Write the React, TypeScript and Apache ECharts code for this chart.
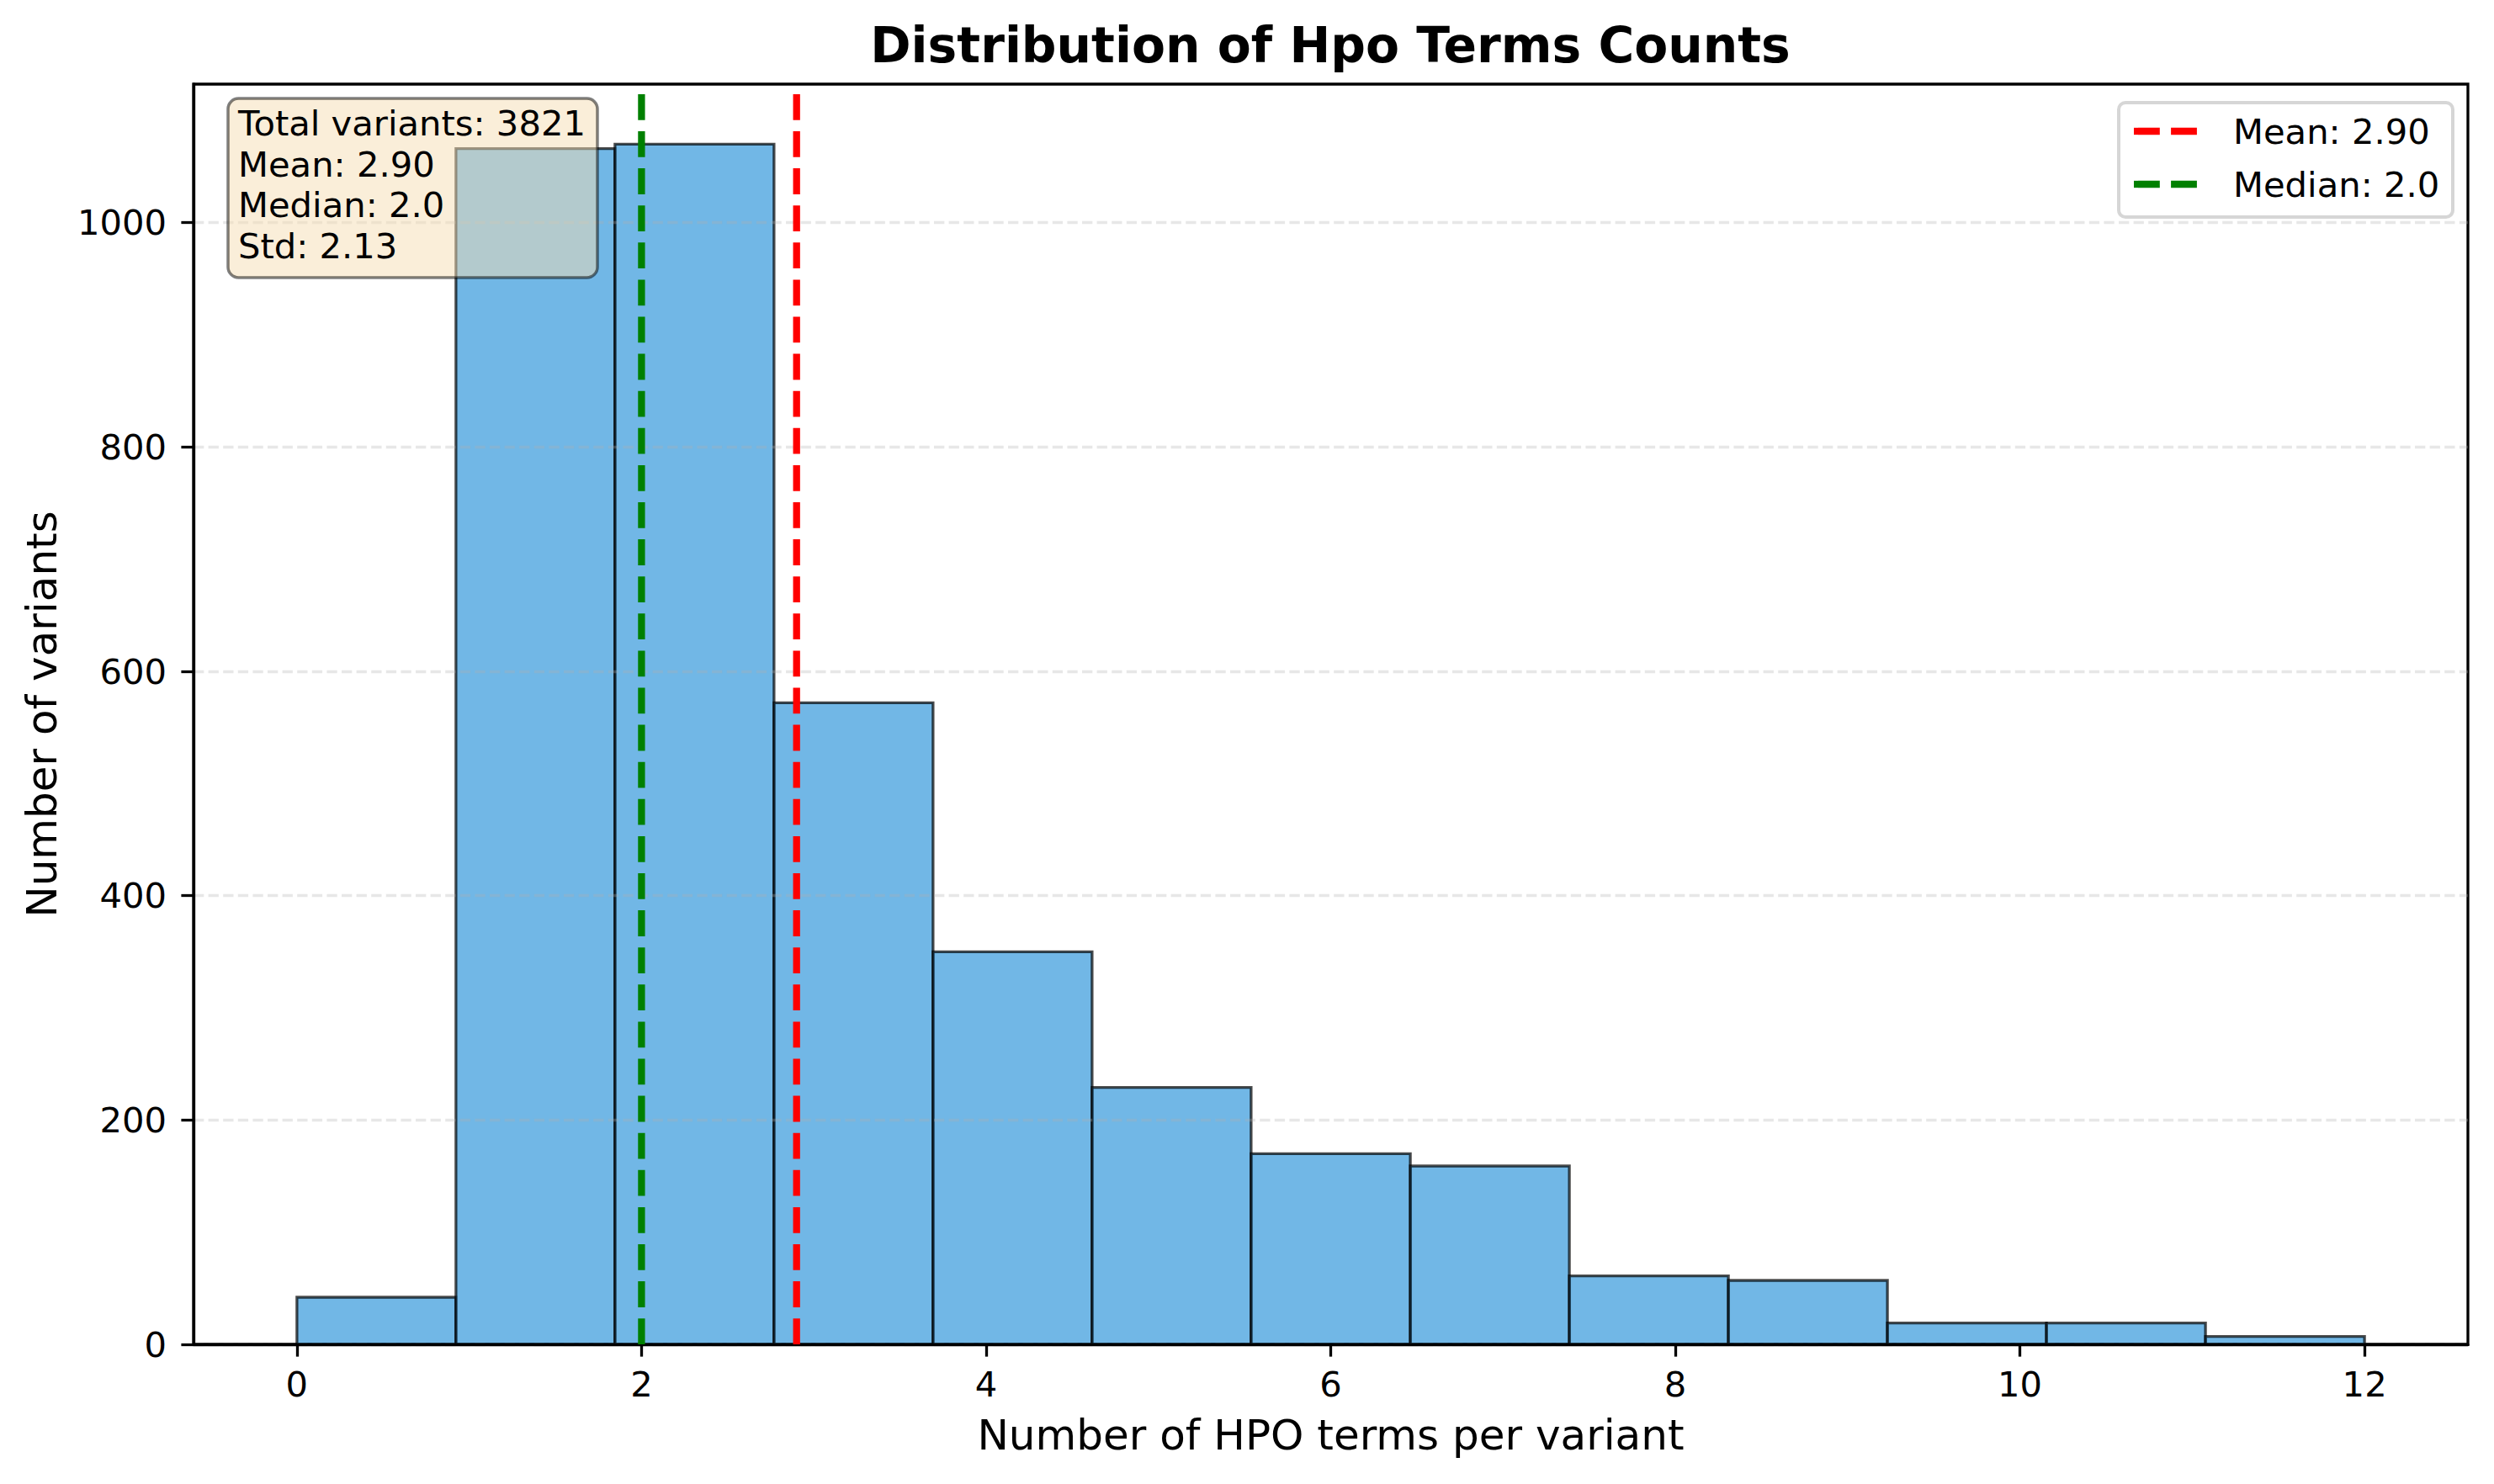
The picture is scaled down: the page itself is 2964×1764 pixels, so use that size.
import React, { useEffect, useRef } from "react";
import * as echarts from "echarts";

const BIN_EDGES = [0, 0.923, 1.846, 2.769, 3.692, 4.615, 5.538, 6.462, 7.385, 8.308, 9.231, 10.154, 11.077, 12];
const COUNTS = [42, 1066, 1070, 572, 350, 229, 170, 159, 61, 57, 19, 19, 7];
const X_TICKS = [0, 2, 4, 6, 8, 10, 12];
const Y_TICKS = [0, 200, 400, 600, 800, 1000];
const MEAN = 2.9;
const MEDIAN = 2.0;
const STATS_LINES = ["Total variants: 3821", "Mean: 2.90", "Median: 2.0", "Std: 2.13"];
const LEGEND_LABELS = ["Mean: 2.90", "Median: 2.0"];
const TITLE = "Distribution of Hpo Terms Counts";
const X_NAME = "Number of HPO terms per variant";
const Y_NAME = "Number of variants";

const FONT = '"DejaVu Sans", "Liberation Sans", sans-serif';
const W = 2964;
const H = 1764;

function txt(text: string, x: number, y: number, size: number, align: string, extra: any = {}) {
  return {
    type: "text",
    x,
    y,
    z: 20,
    style: {
      text,
      fill: "#000",
      fontSize: size,
      fontFamily: FONT,
      fontWeight: extra.bold ? "bold" : "normal",
      align,
      textAlign: align,
      verticalAlign: "middle",
      textVerticalAlign: "middle",
    },
  };
}

export default function App() {
  const ref = useRef<HTMLDivElement>(null);

  useEffect(() => {
    document.body.style.margin = "0";
    document.body.style.overflow = "hidden";
    if (!ref.current) return;
    const chart = echarts.init(ref.current, null, { renderer: "svg" });

    const yMax = Math.max(...COUNTS) * 1.05;
    const span = BIN_EDGES[BIN_EDGES.length - 1] - BIN_EDGES[0];
    const xMin = BIN_EDGES[0] - 0.05 * span;
    const xMax = BIN_EDGES[BIN_EDGES.length - 1] + 0.05 * span;

    const histData = COUNTS.map((c, i) => [BIN_EDGES[i], BIN_EDGES[i + 1], c]);

    const dash = [30.8, 13.3];
    const legendColors = ["#ff0000", "#008000"];

    const graphic: any[] = [
      txt(TITLE, 1581, 54, 58.3, "center", { bold: true }),
      {
        type: "rect",
        z: 18,
        shape: { x: 271, y: 117, width: 439, height: 213, r: 12.5 },
        style: { fill: "rgba(245,222,179,0.5)", stroke: "rgba(0,0,0,0.5)", lineWidth: 3.5 },
      },
      ...STATS_LINES.map((s, i) => txt(s, 283, 146.7 + i * 48.6, 41.7, "left")),
      {
        type: "rect",
        z: 18,
        shape: { x: 2518, y: 122, width: 397, height: 136, r: 8 },
        style: { fill: "rgba(255,255,255,0.8)", stroke: "rgba(204,204,204,0.8)", lineWidth: 4 },
      },
      ...LEGEND_LABELS.map((s, i) => ({
        type: "line",
        z: 19,
        shape: { x1: 2536, y1: 156 + i * 63, x2: 2611, y2: 156 + i * 63 },
        style: { stroke: legendColors[i], lineWidth: 8.3, lineDash: dash },
      })),
      ...LEGEND_LABELS.map((s, i) => txt(s, 2654, 156 + i * 63, 41.7, "left")),
    ];

    const plain = (v: number) => String(v);

    chart.setOption({
      animation: false,
      backgroundColor: "#ffffff",
      textStyle: { fontFamily: FONT },
      grid: {
        left: 230,
        right: W - 2933,
        top: 100,
        bottom: H - 1598,
        show: true,
        borderColor: "#000",
        borderWidth: 3.3,
        backgroundColor: "transparent",
      },
      xAxis: {
        type: "value",
        min: xMin,
        max: xMax,
        z: 3,
        name: X_NAME,
        nameLocation: "middle",
        nameGap: 82.5,
        nameTextStyle: { fontSize: 50, fontFamily: FONT, color: "#000" },
        axisLine: { show: true, onZero: false, lineStyle: { color: "#000", width: 3.3 } },
        axisTick: { show: true, length: 14.6, inside: false, lineStyle: { color: "#000", width: 3.3 }, customValues: X_TICKS },
        axisLabel: { show: true, margin: 26, fontSize: 41.7, fontFamily: FONT, color: "#000", customValues: X_TICKS, formatter: plain },
        splitLine: { show: false },
      },
      yAxis: {
        type: "value",
        min: 0,
        max: yMax,
        interval: 200,
        z: 3,
        name: Y_NAME,
        nameLocation: "middle",
        nameGap: 155,
        nameTextStyle: { fontSize: 50, fontFamily: FONT, color: "#000" },
        axisLine: { show: true, onZero: false, lineStyle: { color: "#000", width: 3.3 } },
        axisTick: { show: true, length: 14.6, inside: false, lineStyle: { color: "#000", width: 3.3 }, customValues: Y_TICKS },
        axisLabel: { show: true, margin: 32, fontSize: 41.7, fontFamily: FONT, color: "#000", customValues: Y_TICKS, formatter: plain },
        splitLine: { show: true, lineStyle: { color: "rgba(176,176,176,0.3)", width: 3.3, type: [12.3, 5.3] } },
      },
      series: [
        {
          type: "custom",
          name: "Hpo terms counts",
          z: 2,
          silent: true,
          encode: { x: [0, 1], y: 2 },
          data: histData,
          renderItem: (params: any, api: any) => {
            const p0 = api.coord([api.value(0), api.value(2)]);
            const p1 = api.coord([api.value(1), 0]);
            return {
              type: "rect",
              shape: { x: p0[0], y: p0[1], width: p1[0] - p0[0], height: p1[1] - p0[1] },
              style: { fill: "rgba(52,152,219,0.7)", stroke: "rgba(0,0,0,0.7)", lineWidth: 3.3 },
            };
          },
        },
        {
          type: "line",
          name: LEGEND_LABELS[0],
          z: 5,
          silent: true,
          symbol: "none",
          data: [[MEAN, 0], [MEAN, yMax]],
          lineStyle: { color: "#ff0000", width: 8.3, type: dash, cap: "butt" },
        },
        {
          type: "line",
          name: LEGEND_LABELS[1],
          z: 5,
          silent: true,
          symbol: "none",
          data: [[MEDIAN, 0], [MEDIAN, yMax]],
          lineStyle: { color: "#008000", width: 8.3, type: dash, cap: "butt" },
        },
      ],
      graphic,
    });

    return () => chart.dispose();
  }, []);

  return <div ref={ref} style={{ width: W, height: H }} />;
}
